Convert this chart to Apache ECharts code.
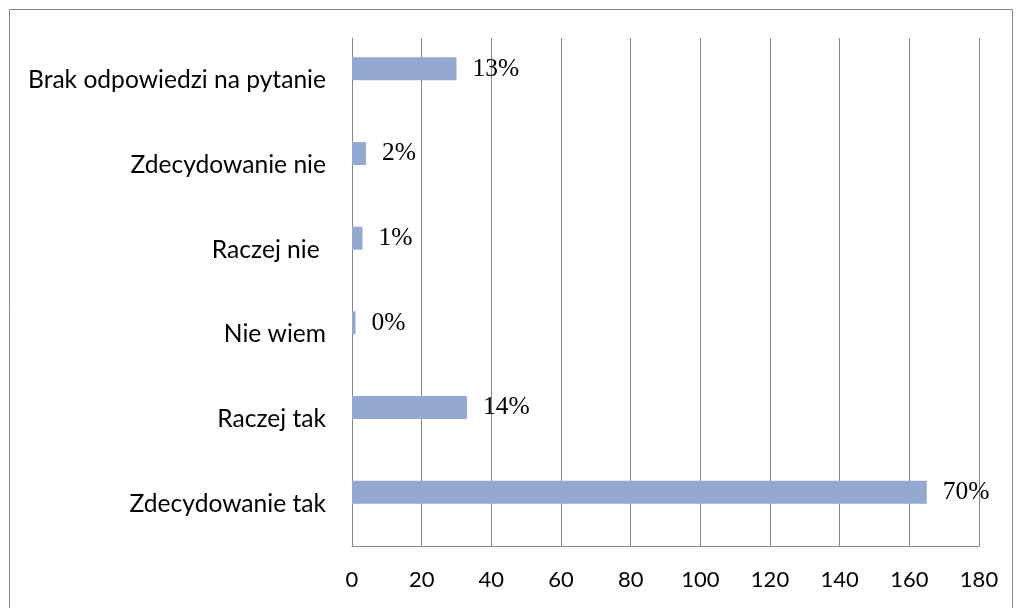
<!DOCTYPE html>
<html><head><meta charset="utf-8">
<script src="https://cdn.jsdelivr.net/npm/echarts@6/dist/echarts.min.js"></script>
<style>html,body{margin:0;padding:0;background:#fff}#c{width:1021px;height:608px}</style>
</head><body><div id="c"></div>
<script>
const categories = ['Zdecydowanie tak','Raczej tak','Nie wiem','Raczej nie ','Zdecydowanie nie','Brak odpowiedzi na pytanie'];
const counts = [165, 33, 1, 3, 4, 30];
const percentLabels = ['70%','14%','0%','1%','2%','13%'];
const xTicks = {min: 0, max: 180, interval: 20};

const chart = echarts.init(document.getElementById('c'));
chart.setOption({
  animation: false,
  graphic: [{type:'rect', shape:{x:9.5,y:9.5,width:1003,height:620}, style:{fill:'none', stroke:'#868686', lineWidth:1}, silent:true}],
  grid: {left: 352, right: 42, top: 38, bottom: 62},
  xAxis: {
    type: 'value', min: xTicks.min, max: xTicks.max, interval: xTicks.interval,
    axisLine: {show: true, lineStyle: {color: '#868686', width: 1}},
    axisTick: {show: false},
    splitLine: {show: true, lineStyle: {color: '#868686', width: 1}},
    axisLabel: {color: '#000', fontFamily: 'Lato', fontSize: 22, margin: 23}
  },
  yAxis: {
    type: 'category', data: categories,
    axisLine: {show: true, lineStyle: {color: '#868686', width: 1}},
    axisTick: {show: false},
    axisLabel: {color: '#000', fontFamily: 'Lato', fontSize: 24.6, margin: 26, padding: [4, 0, 0, 0]}
  },
  series: [
    {type: 'bar', data: counts, barWidth: 23, barGap: '0%',
     itemStyle: {color: '#94A9D1'},
     label: {show: true, position: 'right', distance: 16, color: '#000', fontFamily: 'Liberation Serif', fontSize: 25.5,
       formatter: p => percentLabels[p.dataIndex]}},
    {type: 'bar', data: counts.map(() => null), barWidth: 23, barGap: '0%', itemStyle: {color: 'transparent'}}
  ]
});
</script></body></html>
